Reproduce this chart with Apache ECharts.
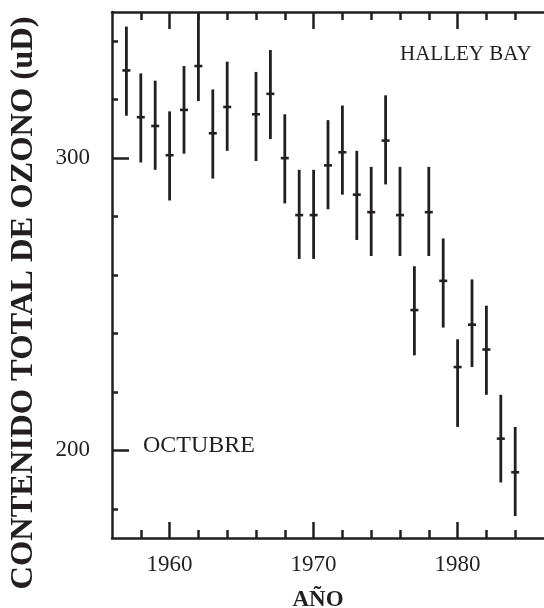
<!DOCTYPE html>
<html>
<head>
<meta charset="utf-8">
<script src="https://cdn.jsdelivr.net/npm/echarts@6/dist/echarts.min.js"></script>
<style>html,body{margin:0;padding:0;background:#fff;}#c{width:544px;height:608px;}</style>
</head>
<body>
<div id="c"></div>
<script>
// Data (October total ozone, Halley Bay)
var years = [1957,1958,1959,1960,1961,1962,1963,1964,1966,1967,1968,1969,1970,1971,1972,1973,1974,1975,1976,1977,1978,1979,1980,1981,1982,1983,1984];
var ozoneMean = [330,314,311,301,316.5,331.5,308.5,317.5,315,322,300,280.5,280.5,297.5,302,287.5,281.5,306,280.5,248,281.5,258,228.5,243,234.5,204,192.5];
var ozoneHigh = [345,329,326.5,316,331.5,350,323.5,333,329.5,337,315,296,296,313,318,302.5,297,321.5,297,263,297,272.5,238,258.5,249.5,219,208];
var ozoneLow  = [314.5,298.5,296,285.5,301.5,319.5,293,302.5,299,306.5,284.5,265.5,265.5,282.5,287.5,272,266.5,291,266.5,232.5,266.5,242,208,228.5,219,189,177.5];

// Tick values
var xMinorTicks = [1958,1960,1962,1964,1966,1968,1970,1972,1974,1976,1978,1980,1982,1984];
var xMajorTicks = [1960,1970,1980];
var yMinorTicks = [180,200,220,240,260,280,300,320,340];
var yMajorTicks = [200,300];

var ink = '#231f20';
var serif = '"Liberation Serif", "Times New Roman", serif';

var data = years.map(function (y, i) { return [y, ozoneLow[i], ozoneMean[i], ozoneHigh[i]]; });

var xMin = 1956, xMax = 1986, yMin = 170, yMax = 350;
function plain(v) { return String(v); }

function xAx(pos, ticks, len, showLine, labels) {
  return {
    type: 'value', position: pos, min: xMin, max: xMax,
    axisLine: { show: showLine, onZero: false, lineStyle: { color: ink, width: 2.5 } },
    axisTick: { show: true, inside: true, length: len, customValues: ticks, lineStyle: { color: ink, width: 2.5 } },
    axisLabel: labels ? { show: true, customValues: labels, formatter: plain, margin: 15, color: ink, fontFamily: serif, fontSize: 23 } : { show: false },
    splitLine: { show: false }
  };
}
function yAx(ticks, len, showLine, labels) {
  return {
    type: 'value', position: 'left', min: yMin, max: yMax,
    axisLine: { show: showLine, onZero: false, lineStyle: { color: ink, width: 2.5 } },
    axisTick: { show: true, inside: true, length: len, customValues: ticks, lineStyle: { color: ink, width: 2.5 } },
    axisLabel: labels ? { show: true, customValues: labels, formatter: plain, margin: 22, color: ink, fontFamily: serif, fontSize: 23 } : { show: false },
    splitLine: { show: false }
  };
}

var chart = echarts.init(document.getElementById('c'), null, { renderer: 'canvas' });
chart.setOption({
  animation: false,
  backgroundColor: '#fff',
  grid: { left: 112, top: 12, width: 436, height: 526, containLabel: false },
  xAxis: [
    xAx('bottom', xMinorTicks, 8, true, xMajorTicks),
    xAx('bottom', xMajorTicks, 16, false, null),
    xAx('top', xMinorTicks, 8, true, null),
    xAx('top', xMajorTicks, 17, false, null)
  ],
  yAxis: [
    yAx(yMinorTicks, 6, true, yMajorTicks),
    yAx(yMajorTicks, 17, false, null)
  ],
  graphic: [
    { type: 'text', x: 24, y: 303, rotation: Math.PI / 2,
      style: { text: 'CONTENIDO TOTAL DE OZONO (uD)', fill: ink, font: 'bold 32.5px ' + serif, textAlign: 'center', textVerticalAlign: 'middle' } },
    { type: 'text', x: 318, y: 600,
      style: { text: 'AÑO', fill: ink, font: 'bold 23px ' + serif, textAlign: 'center', textVerticalAlign: 'middle' } },
    { type: 'text', x: 400, y: 54,
      style: { text: 'HALLEY BAY', fill: ink, font: '21px ' + serif, textAlign: 'left', textVerticalAlign: 'middle' } },
    { type: 'text', x: 143, y: 446,
      style: { text: 'OCTUBRE', fill: ink, font: '24px ' + serif, textAlign: 'left', textVerticalAlign: 'middle' } }
  ],
  series: [{
    type: 'custom',
    xAxisIndex: 0, yAxisIndex: 0,
    data: data,
    renderItem: function (params, api) {
      var x = api.value(0);
      var pLo = api.coord([x, api.value(1)]);
      var pMid = api.coord([x, api.value(2)]);
      var pHi = api.coord([x, api.value(3)]);
      return {
        type: 'group',
        children: [
          { type: 'line', shape: { x1: pLo[0], y1: pLo[1], x2: pHi[0], y2: pHi[1] }, style: { stroke: ink, lineWidth: 2.8 } },
          { type: 'line', shape: { x1: pMid[0] - 4, y1: pMid[1], x2: pMid[0] + 4, y2: pMid[1] }, style: { stroke: ink, lineWidth: 2.6 } }
        ]
      };
    }
  }]
});
</script>
</body>
</html>
